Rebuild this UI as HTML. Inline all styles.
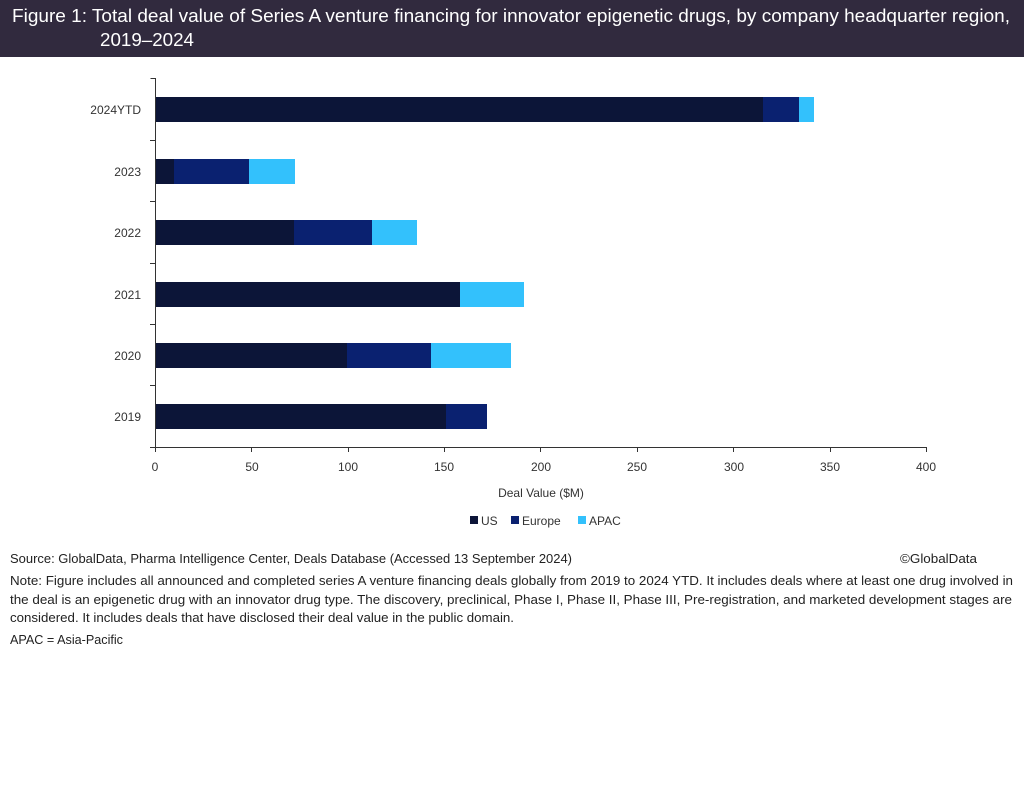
<!DOCTYPE html>
<html><head><meta charset="utf-8"><style>
body{margin:0;width:1024px;height:783px;background:#fff;font-family:"Liberation Sans",sans-serif;overflow:hidden}
</style></head><body>
<svg width="1024" height="783" xmlns="http://www.w3.org/2000/svg" font-family="Liberation Sans, sans-serif">
<rect x="0" y="0" width="1024" height="57" fill="#312a3e"/>
<text x="12" y="22" font-size="18" fill="#fff" textLength="998" lengthAdjust="spacingAndGlyphs">Figure 1: Total deal value of Series A venture financing for innovator epigenetic drugs, by company headquarter region,</text>
<text x="100" y="46" font-size="18" fill="#fff" textLength="94" lengthAdjust="spacingAndGlyphs">2019–2024</text>
<g fill="#0c1538">
<rect x="155" y="97" width="608" height="25"/><rect x="155" y="159" width="19" height="25"/>
<rect x="155" y="220" width="139" height="25"/><rect x="155" y="282" width="305" height="25"/>
<rect x="155" y="343" width="192" height="25"/><rect x="155" y="404" width="291" height="25"/>
</g>
<g fill="#0a2170">
<rect x="763" y="97" width="36" height="25"/><rect x="174" y="159" width="75" height="25"/>
<rect x="294" y="220" width="78" height="25"/><rect x="347" y="343" width="84" height="25"/>
<rect x="446" y="404" width="41" height="25"/>
</g>
<g fill="#33c1fc">
<rect x="799" y="97" width="15" height="25"/><rect x="249" y="159" width="46" height="25"/>
<rect x="372" y="220" width="45" height="25"/><rect x="460" y="282" width="64" height="25"/>
<rect x="431" y="343" width="80" height="25"/>
</g>
<g stroke="#333" stroke-width="1" fill="none">
<path d="M150.5 78.5H155.5V447.5H926.5"/>
<path d="M150 140.5H155M150 201.5H155M150 263.5H155M150 324.5H155M150 385.5H155M150 447.5H155"/>
<path d="M155.5 447V452M251.5 447V452M348.5 447V452M444.5 447V452M540.5 447V452M637.5 447V452M733.5 447V452M830.5 447V452M926.5 447V452"/>
</g>
<g font-size="12" fill="#333" text-anchor="end">
<text x="141" y="114">2024YTD</text><text x="141" y="176">2023</text><text x="141" y="237">2022</text>
<text x="141" y="299">2021</text><text x="141" y="360">2020</text><text x="141" y="421">2019</text>
</g>
<g font-size="12" fill="#333" text-anchor="middle">
<text x="155" y="471">0</text><text x="252" y="471">50</text><text x="348" y="471">100</text><text x="444" y="471">150</text>
<text x="541" y="471">200</text><text x="637" y="471">250</text><text x="734" y="471">300</text><text x="830" y="471">350</text><text x="926" y="471">400</text>
<text x="541" y="497">Deal Value ($M)</text>
</g>
<g font-size="12" fill="#333">
<rect x="470" y="516" width="8" height="8" fill="#0c1538"/><text x="481" y="525">US</text>
<rect x="511" y="516" width="8" height="8" fill="#0a2170"/><text x="522" y="525">Europe</text>
<rect x="578" y="516" width="8" height="8" fill="#33c1fc"/><text x="589" y="525">APAC</text>
</g>
<g font-size="12.5" fill="#222">
<text x="10" y="563" textLength="562" lengthAdjust="spacingAndGlyphs">Source: GlobalData, Pharma Intelligence Center, Deals Database (Accessed 13 September 2024)</text>
<text x="900" y="563" textLength="77" lengthAdjust="spacingAndGlyphs">©GlobalData</text>
<text x="10" y="585" textLength="1003" lengthAdjust="spacingAndGlyphs">Note: Figure includes all announced and completed series A venture financing deals globally from 2019 to 2024 YTD. It includes deals where at least one drug involved in</text>
<text x="10" y="604" textLength="1002" lengthAdjust="spacingAndGlyphs">the deal is an epigenetic drug with an innovator drug type. The discovery, preclinical, Phase I, Phase II, Phase III, Pre-registration, and marketed development stages are</text>
<text x="10" y="622" textLength="504" lengthAdjust="spacingAndGlyphs">considered. It includes deals that have disclosed their deal value in the public domain.</text>
<text x="10" y="644" textLength="113" lengthAdjust="spacingAndGlyphs">APAC = Asia-Pacific</text>
</g>
</svg>
</body></html>
